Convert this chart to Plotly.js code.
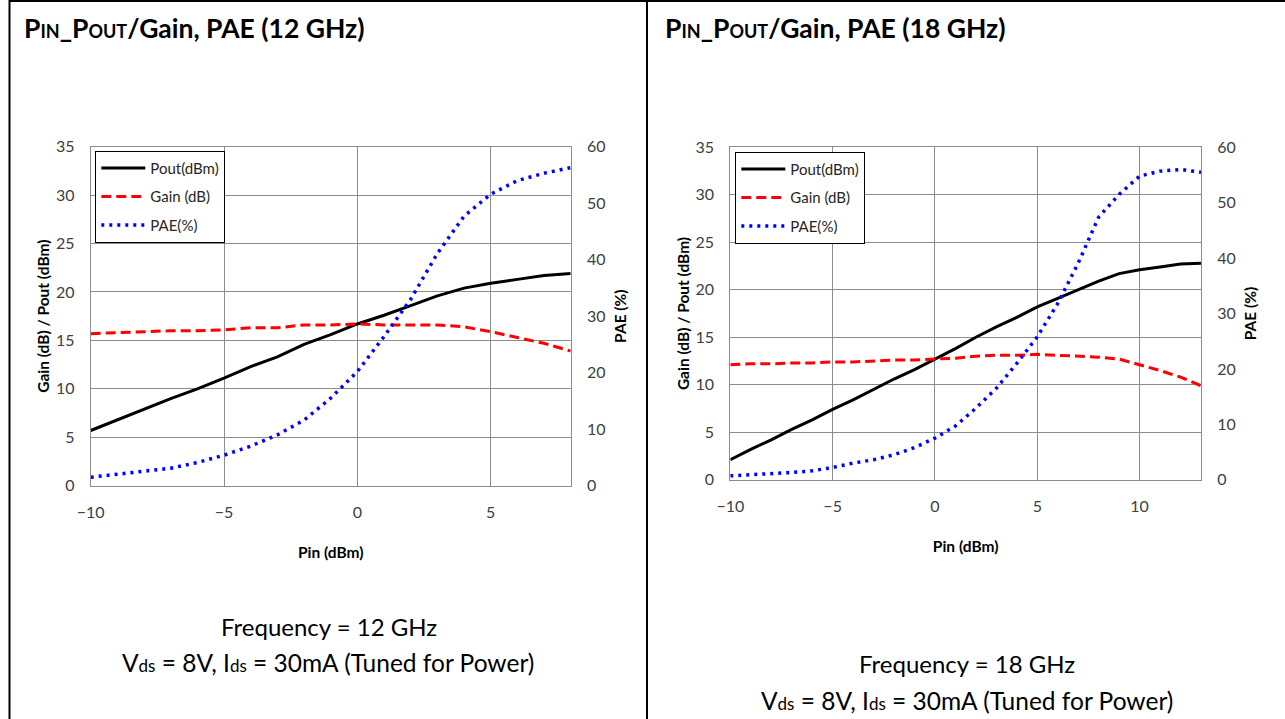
<!DOCTYPE html>
<html>
<head>
<meta charset="utf-8">
<script src="https://cdn.plot.ly/plotly-3.0.1.min.js"></script>
<style>html,body{margin:0;padding:0;background:#fff;overflow:hidden}#chart{width:1285px;height:719px}</style>
</head>
<body>
<div id="chart"></div>
<script>
// ---- 12 GHz ----
const pin12  = [-10,-9,-8,-7,-6,-5,-4,-3,-2,-1,0,1,2,3,4,5,6,7,8];
const pout12 = [5.7,6.8,7.9,9.0,10.0,11.1,12.3,13.3,14.6,15.6,16.7,17.6,18.6,19.6,20.4,20.9,21.3,21.7,21.9];
const gain12 = [15.7,15.8,15.9,16.0,16.0,16.1,16.3,16.3,16.6,16.6,16.7,16.6,16.6,16.6,16.4,15.9,15.3,14.7,13.9];
const pae12  = [1.5,2.0,2.5,3.1,4.1,5.4,7.0,9.0,11.6,15.5,20.2,26.4,33.0,41.1,47.7,51.6,54.0,55.3,56.3];
// ---- 18 GHz ----
const pin18  = [-10,-9,-8,-7,-6,-5,-4,-3,-2,-1,0,1,2,3,4,5,6,7,8,9,10,11,12,13];
const pout18 = [2.1,3.2,4.2,5.3,6.3,7.4,8.4,9.5,10.6,11.6,12.7,13.8,15.0,16.1,17.1,18.2,19.1,20.0,20.9,21.7,22.1,22.4,22.7,22.8];
const gain18 = [12.1,12.2,12.2,12.3,12.3,12.4,12.4,12.5,12.6,12.6,12.7,12.8,13.0,13.1,13.1,13.2,13.1,13.0,12.9,12.7,12.1,11.5,10.8,9.9];
const pae18  = [0.7,0.85,1.0,1.3,1.6,2.2,3.0,3.6,4.5,5.8,7.5,9.7,12.9,16.5,21.0,25.8,31.8,39.1,47.4,51.5,54.8,55.7,56.0,55.5];

const seriesNames = ['Pout(dBm)', 'Gain (dB)', 'PAE(%)'];
const small = (t, s) => '<span style="font-size:' + s + 'px">' + t + '</span>';
const titles = [
  'P' + small('IN', 18) + '_P' + small('OUT', 18) + '/Gain, PAE (12 GHz)',
  'P' + small('IN', 18) + '_P' + small('OUT', 18) + '/Gain, PAE (18 GHz)'
];
const freqText = ['Frequency = 12 GHz', 'Frequency = 18 GHz'];
const biasText = 'V' + small('ds', 17) + ' = 8V, I' + small('ds', 17) + ' = 30mA (Tuned for Power)';
const xTitle = 'Pin (dBm)';
const yTitle = 'Gain (dB) / Pout (dBm)';
const y2Title = 'PAE (%)';

const FONT = 'Lato, "Open Sans", sans-serif';
const W = 1285, H = 719;
const px = v => v / W;
const py = v => 1 - v / H;

const solid = {color: '#000000', width: 3};
const dashed = {color: '#ff0000', width: 3, dash: '10px,5px'};
const dotted = {color: '#0000ff', width: 3.5, dash: '3px,5px'};

function tr(x, y, name, line, xa, ya, leg, grp) {
  return {x: x, y: y, name: name, type: 'scatter', mode: 'lines', line: line,
          xaxis: xa, yaxis: ya, legend: leg, legendgroup: grp, hoverinfo: 'skip'};
}

const data = [
  tr(pin12, pout12, seriesNames[0], solid, 'x', 'y', 'legend', 'a1'),
  tr(pin12, gain12, seriesNames[1], dashed, 'x', 'y', 'legend', 'a2'),
  tr(pin12, pae12, seriesNames[2], dotted, 'x', 'y2', 'legend', 'a3'),
  tr(pin18, pout18, seriesNames[0], solid, 'x2', 'y3', 'legend2', 'b1'),
  tr(pin18, gain18, seriesNames[1], dashed, 'x2', 'y3', 'legend2', 'b2'),
  tr(pin18, pae18, seriesNames[2], dotted, 'x2', 'y4', 'legend2', 'b3')
];

const GRID = '#8c8c8c';
const tickFont = {family: FONT, size: 16, color: '#404040'};
const titleFont = {family: FONT, size: 15.5, color: '#000000', weight: 'bold'};

function xAx(dom, rng, anchor) {
  return {domain: dom, range: rng, anchor: anchor, dtick: 5, tick0: 0,
    showgrid: true, gridcolor: GRID, gridwidth: 1, zeroline: false,
    showline: true, linecolor: GRID, linewidth: 1, mirror: true,
    ticks: 'outside', ticklen: 12, tickcolor: 'rgba(0,0,0,0)',
    tickfont: tickFont, fixedrange: true,
    title: {text: xTitle, font: titleFont, standoff: 27}};
}
function yAx(dom, anchor) {
  return {domain: dom, range: [0, 35], anchor: anchor, dtick: 5, tick0: 0,
    showgrid: true, gridcolor: GRID, gridwidth: 1, zeroline: false,
    showline: true, linecolor: GRID, linewidth: 1, mirror: true,
    ticks: 'outside', ticklen: 12, tickcolor: 'rgba(0,0,0,0)',
    tickfont: tickFont, fixedrange: true,
    title: {text: yTitle, font: titleFont, standoff: 2}};
}
function y2Ax(over, anchor) {
  return {overlaying: over, side: 'right', anchor: anchor, range: [0, 60], dtick: 10, tick0: 0,
    showgrid: false, zeroline: false, showline: false,
    ticks: 'outside', ticklen: 12, tickcolor: 'rgba(0,0,0,0)',
    tickfont: tickFont, fixedrange: true,
    title: {text: y2Title, font: titleFont, standoff: 10}};
}

function legendAt(x, y) {
  return {x: px(x), y: py(y), xanchor: 'left', yanchor: 'top', xref: 'paper', yref: 'paper',
    bgcolor: '#ffffff', bordercolor: '#000000', borderwidth: 1,
    font: {family: FONT, size: 15, color: '#262626'}, itemwidth: 44,
    tracegroupgap: 6, traceorder: 'grouped'};
}

function ann(text, x, y, size, bold, xanchor) {
  return {text: text, x: px(x), y: py(y), xref: 'paper', yref: 'paper',
    xanchor: xanchor, yanchor: 'middle', showarrow: false,
    font: {family: FONT, size: size, color: '#000000', weight: bold ? 'bold' : 'normal'}};
}

const layout = {
  width: W, height: H, margin: {l: 0, r: 0, t: 0, b: 0},
  paper_bgcolor: '#ffffff', plot_bgcolor: '#ffffff',
  xaxis: xAx([px(90.7), px(570.7)], [-10, 8], 'y'),
  yaxis: yAx([py(485.7), py(146.7)], 'x'),
  yaxis2: y2Ax('y', 'x'),
  xaxis2: xAx([px(730.3), px(1201)], [-10, 13], 'y3'),
  yaxis3: yAx([py(479.7), py(147.3)], 'x2'),
  yaxis4: y2Ax('y3', 'x2'),
  legend: legendAt(95.3, 150.7),
  legend2: legendAt(735.3, 151.7),
  annotations: [
    ann(titles[0], 22, 28, 26.5, true, 'left'),
    ann(titles[1], 663, 28, 26.5, true, 'left'),
    ann(freqText[0], 328.5, 626, 24, false, 'center'),
    ann(biasText, 328, 662, 24.5, false, 'center'),
    ann(freqText[1], 966.5, 663, 24, false, 'center'),
    ann(biasText, 966.5, 700, 24.5, false, 'center')
  ],
  shapes: [
    {type: 'line', xref: 'paper', yref: 'paper', x0: px(9.5), x1: px(9.5), y0: 0, y1: py(0), line: {color: '#000', width: 2}},
    {type: 'line', xref: 'paper', yref: 'paper', x0: px(9.5), x1: 1, y0: py(1), y1: py(1), line: {color: '#000', width: 2}},
    {type: 'line', xref: 'paper', yref: 'paper', x0: px(647), x1: px(647), y0: 0, y1: py(0), line: {color: '#000', width: 2}}
  ],
  showlegend: true
};

Plotly.newPlot('chart', data, layout, {displayModeBar: false, staticPlot: true});
</script>
</body>
</html>
